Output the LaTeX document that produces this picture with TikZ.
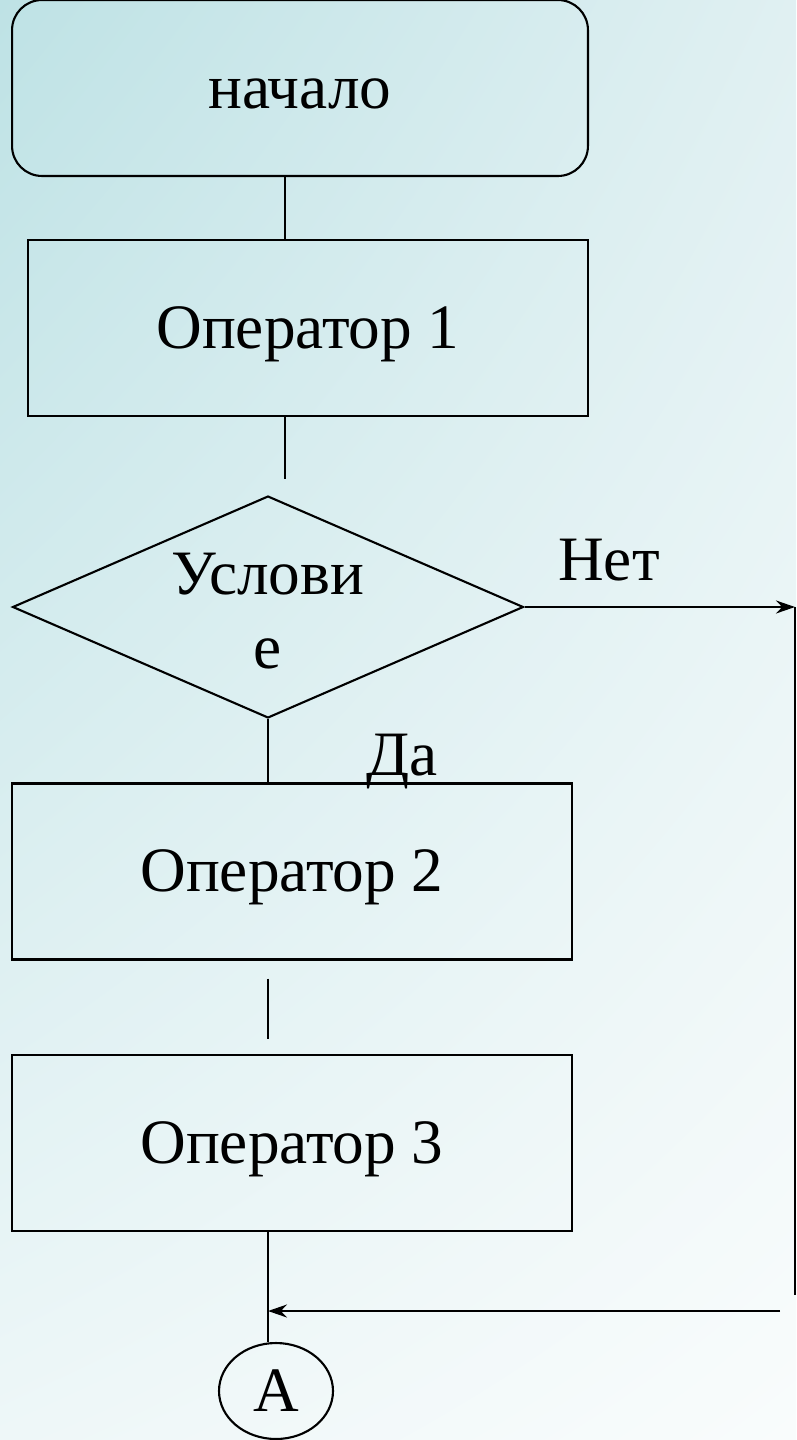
\documentclass[tikz,border=0pt]{standalone}
\usepackage{fontspec}
\setmainfont{Liberation Serif}
\usetikzlibrary{shapes.geometric, arrows.meta, calc, shadings}

\definecolor{bgtopleft}{RGB}{190,226,229}
\definecolor{bgtopright}{RGB}{224,240,242}
\definecolor{bgbotleft}{RGB}{238,247,248}
\definecolor{bgbotright}{RGB}{249,252,252}

\tikzset{
    block/.style = {
        draw,
        rectangle,
        line width=1.2pt,
        minimum width=11.2cm,
        minimum height=3.52cm,
        text height=23pt,
        text depth=0pt,
        font=\fontsize{36}{42.5}\selectfont
    },
    terminal/.style = {
        block,
        rounded corners=0.6cm,
        minimum width=11.52cm
    },
    decision/.style = {
        draw,
        diamond,
        line width=1.2pt,
        inner sep=0pt,
        minimum width=10.22cm,
        minimum height=4.44cm
    },
    connector/.style = {
        draw,
        ellipse,
        line width=1.2pt,
        inner sep=0pt,
        minimum width=2.28cm,
        minimum height=1.92cm,
        font=\fontsize{36}{42.5}\selectfont
    },
    connect/.style = {
        line width=1.2pt,
        black
    },
    flow/.style = {
        connect,
        -{Stealth[length=0.38cm, width=0.26cm]}
    },
    caption/.style = {
        inner sep=0pt,
        font=\fontsize{36}{42.5}\selectfont
    }
}

\begin{document}
\begin{tikzpicture}[x=0.02cm, y=-0.02cm]
    % Background
    \shade[upper left=bgtopleft, upper right=bgtopright, lower left=bgbotleft, lower right=bgbotright]
        (0,0) rectangle (796,1440);
    \useasboundingbox (0,0) rectangle (796,1440);

    % Draw all blocks
    \node[terminal]  (start) at (300,88)    {начало};
    \node[block]     (op1)   at (308,328)   {Оператор 1};
    \node[decision]  (cond)  at (268,607)   {};
    \node[caption, align=center] (condtext) at (268,611) {Услови\\е};
    \node[block]     (op2)   at (292,871.5) {Оператор 2};
    \node[block]     (op3)   at (292,1143)  {Оператор 3};
    \node[connector] (conA)  at (276,1391)  {А};

    % Free ends
    \coordinate (noend)  at (795,607);
    \coordinate (noturn) at (795,1295);
    \coordinate (backin) at (780,1311);

    % Draw connections
    \draw[connect] ($(start.south)+(-15,0)$) -- ($(op1.north)+(-23,0)$);
    \draw[connect] ($(op1.south)+(-23,0)$) -- ($(cond.north)+(17,-16)$);
    \draw[connect] (cond.south) -- (op2.north -| cond.south);
    \draw[connect] ($(op2.south -| cond.south)+(0,18)$) -- ($(op3.north -| cond.south)+(0,-15)$);
    \draw[connect] (op3.south -| cond.south) -- (conA.north -| cond.south);
    %
    \draw[flow] (cond.east) -- (noend);
    \draw[connect] (noend) -- (noturn);
    \draw[flow] (backin) -- (backin -| cond.south);

    % Draw labels
    \node[caption, anchor=base] (nolabel)  at (609,580) {Нет};
    \node[caption, anchor=base] (yeslabel) at (402,775) {Да};
\end{tikzpicture}
\end{document}
